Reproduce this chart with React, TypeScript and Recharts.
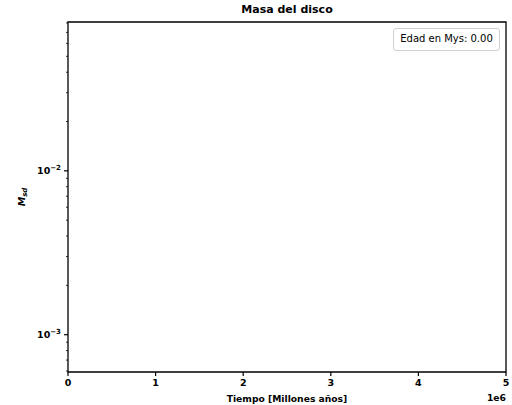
import { LineChart, Line, XAxis, YAxis, ReferenceArea, Legend } from "recharts";

// tiempo en años, masa del disco (vacía en el instante 0.00)
const tiempo = [0];
const masa: (number | null)[] = [null];
const serieNombre = "Edad en Mys: 0.00";

const xTicks = [0, 1e6, 2e6, 3e6, 4e6, 5e6];
const yTicks = [
  6e-4, 7e-4, 8e-4, 9e-4,
  1e-3, 2e-3, 3e-3, 4e-3, 5e-3, 6e-3, 7e-3, 8e-3, 9e-3,
  1e-2, 2e-2, 3e-2, 4e-2, 5e-2, 6e-2, 7e-2, 8e-2,
];
const yDomain = [5.92e-4, 8.1e-2];

const data = tiempo.map((t, i) => ({ t, masa: masa[i] }));

const FONT = "DejaVu Sans";
const LEFT = 68;
const BOTTOM = 372;

const isMajor = (v: number) => {
  const l = Math.log10(v);
  return Math.abs(l - Math.round(l)) < 1e-9;
};

function YTick({ y, payload }: any) {
  const v = payload.value as number;
  const major = isMajor(v);
  const len = major ? 4 : 2;
  return (
    <g>
      <line x1={LEFT - len} x2={LEFT} y1={y} y2={y} stroke="#000" strokeWidth={major ? 1.2 : 0.8} />
      {major && (
        <text x={LEFT - 7} y={y + 3.5} textAnchor="end" fontFamily={FONT} fontWeight="bold" fontSize={9.5} fill="#000">
          10
          <tspan dy={-4} fontSize={7}>{"\u2212" + Math.abs(Math.round(Math.log10(v)))}</tspan>
        </text>
      )}
    </g>
  );
}

function XTick({ x, payload }: any) {
  return (
    <g>
      <line x1={x} x2={x} y1={BOTTOM} y2={BOTTOM + 4} stroke="#000" strokeWidth={1.2} />
      <text x={x} y={BOTTOM + 14} textAnchor="middle" fontFamily={FONT} fontWeight="bold" fontSize={9.5} fill="#000">
        {payload.value / 1e6}
      </text>
    </g>
  );
}

function XLabel({ viewBox }: any) {
  const { x, y, width } = viewBox;
  return (
    <g fontFamily={FONT} fontWeight="bold" fontSize={9.2} fill="#000">
      <text x={x + width / 2} y={y + 30} textAnchor="middle">Tiempo [Millones años]</text>
      <text x={x + width} y={y + 29} textAnchor="end">1e6</text>
    </g>
  );
}

function YLabel() {
  return (
    <text transform="translate(25,197) rotate(-90)" textAnchor="middle" fontFamily={FONT} fontWeight="bold" fontStyle="italic" fontSize={9.5} fill="#000">
      M
      <tspan dy={2} fontSize={7}>sd</tspan>
    </text>
  );
}

function LegendBox() {
  return (
    <div
      style={{
        border: "1px solid #d0d0d0",
        borderRadius: 3,
        background: "#fff",
        width: 107,
        height: 23,
        boxSizing: "border-box",
        fontFamily: FONT,
        fontSize: 10,
        color: "#000",
        lineHeight: "20px",
        textAlign: "center",
      }}
    >
      {serieNombre}
    </div>
  );
}

export default function App() {
  return (
    <div style={{ position: "absolute", left: 0, top: 0, width: 512, height: 405, background: "#fff" }}>
      <div
        style={{
          position: "absolute",
          left: LEFT,
          width: 438,
          top: 3,
          textAlign: "center",
          fontFamily: FONT,
          fontWeight: "bold",
          fontSize: 11,
          color: "#000",
        }}
      >
        Masa del disco
      </div>
      <LineChart width={512} height={405} data={data} margin={{ top: 22, right: 6, left: 0, bottom: 0 }}>
        <XAxis
          dataKey="t"
          type="number"
          domain={[0, 5e6]}
          ticks={xTicks}
          interval={0}
          height={33}
          axisLine={false}
          tickLine={false}
          tick={<XTick />}
          label={<XLabel />}
          allowDataOverflow
        />
        <YAxis
          type="number"
          scale="log"
          domain={yDomain}
          ticks={yTicks}
          interval={0}
          width={68}
          axisLine={false}
          tickLine={false}
          tick={<YTick />}
          label={<YLabel />}
          allowDataOverflow
        />
        <ReferenceArea x1={0} x2={5e6} y1={yDomain[0]} y2={yDomain[1]} fill="none" stroke="#000" strokeWidth={1.3} ifOverflow="visible" />
        <Legend
          layout="horizontal"
          verticalAlign="middle"
          align="center"
          content={<LegendBox />}
          wrapperStyle={{ position: "absolute", top: 28, left: 393, width: 107, height: 23 }}
        />
        <Line dataKey="masa" name={serieNombre} stroke="#1f77b4" dot={false} isAnimationActive={false} connectNulls={false} />
      </LineChart>
    </div>
  );
}
